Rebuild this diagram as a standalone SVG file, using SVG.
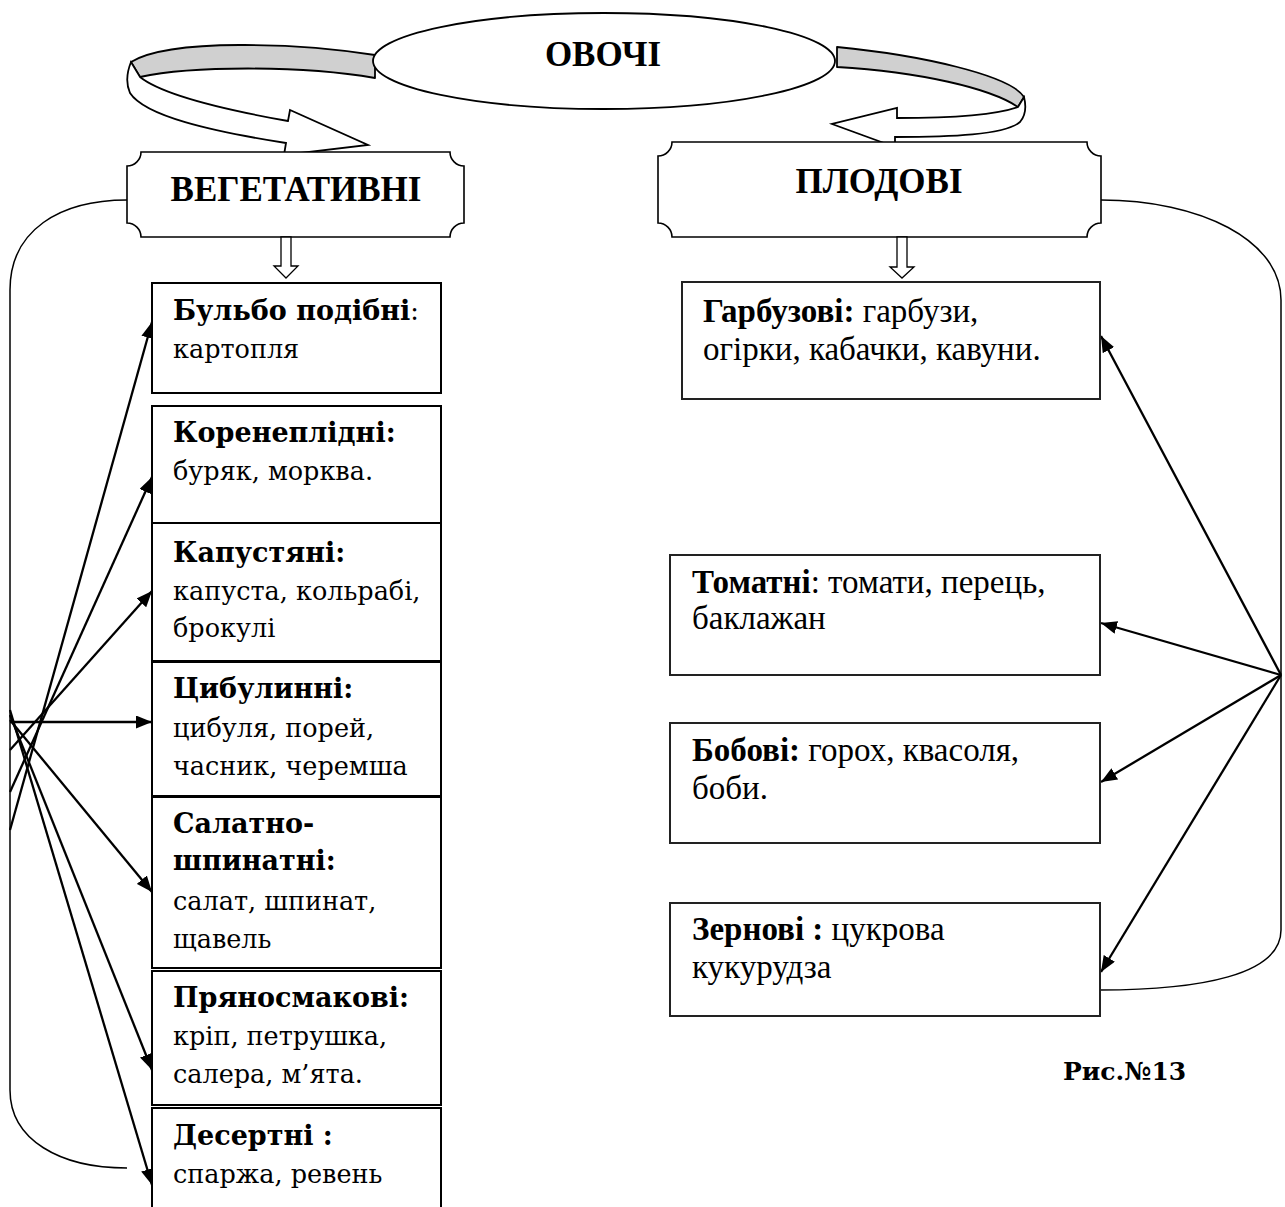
<svg xmlns="http://www.w3.org/2000/svg" width="1285" height="1207" viewBox="0 0 1285 1207">
  <style>
    .box { fill: #fff; stroke: #000; stroke-width: 2; }
    .boxr { fill: #fff; stroke: #222; stroke-width: 2; }
    .plaque { fill: #fff; stroke: #000; stroke-width: 1.6; }
    .head { font-family: "Liberation Serif", "Times New Roman", serif; font-weight: bold; font-size: 35px; fill: #000; }
    .lt { font-family: "DejaVu Serif", Georgia, serif; font-size: 25.5px; fill: #000; }
    .lt.b, .lt .b { font-size: 27px; }
    .rt { font-family: "Liberation Serif", "Times New Roman", serif; font-size: 33px; fill: #000; }
    .b { font-weight: bold; }
    .link { fill: none; stroke: #000; stroke-width: 2.3; }
    .loop { fill: none; stroke: #000; stroke-width: 1.5; }
    .hollow { fill: #fff; stroke: #000; stroke-width: 1.3; }
    .band { fill: #d0d0d0; stroke: #000; stroke-width: 1.8; stroke-linejoin: round; }
    .ribbon { fill: #fff; stroke: #000; stroke-width: 1.8; stroke-linejoin: miter; }
    .caption { font-family: "DejaVu Serif", Georgia, serif; font-weight: bold; font-size: 25px; fill: #000; }
  </style>
  <defs>
    <marker id="head" markerUnits="userSpaceOnUse" markerWidth="17" markerHeight="13" refX="16" refY="6.5" orient="auto">
      <path d="M0,0 L16,6.5 L0,13 Z" fill="#000"/>
    </marker>
  </defs>

  <rect width="1285" height="1207" fill="#fff"/>

  <!-- curved ribbon arrows from the title ellipse -->
  <g id="ribbons">
    <path class="band" d="M375,55 C300,43 170,38 131,62 L140,77 C190,66 300,65 375,78 Z"/>
    <path class="ribbon" d="M131,62 C127,72 126,84 130,93 C145,116 210,131 286,143 L284,155 L368,145 L290,110 L288,121 C215,108 160,93 140,77 Z"/>
    <path class="band" d="M837,47 C920,55 1010,75 1024,97 L1018,107 C990,88 920,72 837,67 Z"/>
    <path class="ribbon" d="M1024,97 C1026,105 1026,115 1020,122 C1005,135 950,137 895,137 L895,147 L832,124 L897,108 L897,118 C950,118 995,115 1018,107 Z"/>
  </g>

  <!-- title -->
  <g id="ovochi">
    <ellipse cx="604" cy="61" rx="231" ry="48" fill="#fff" stroke="#000" stroke-width="1.8"/>
    <text class="head" x="603" y="66" text-anchor="middle">ОВОЧІ</text>
  </g>

  <!-- group headers -->
  <g id="vegetatyvni">
    <path class="plaque" d="M141,152 L450,152 A14,14 0 0 0 464,166 L464,223 A14,14 0 0 0 450,237 L141,237 A14,14 0 0 0 127,223 L127,166 A14,14 0 0 0 141,152 Z"/>
    <text class="head" x="296" y="201" text-anchor="middle">ВЕГЕТАТИВНІ</text>
  </g>
  <g id="plodovi">
    <path class="plaque" d="M672,142 L1087,142 A14,14 0 0 0 1101,156 L1101,223 A14,14 0 0 0 1087,237 L672,237 A14,14 0 0 0 658,223 L658,156 A14,14 0 0 0 672,142 Z"/>
    <text class="head" x="879" y="193" text-anchor="middle">ПЛОДОВІ</text>
  </g>

  <!-- connectors -->
  <g id="connectors">
    <path class="hollow" d="M281,237 L291,237 L291,266 L298,266 L286,278 L274,266 L281,266 Z"/>
    <path class="hollow" d="M897,237 L907,237 L907,267 L914,267 L902,278 L890,267 L897,267 Z"/>

    <path class="loop" d="M127,200 C60,200 10,230 10,290 L10,1090 C10,1140 60,1168 127,1168"/>
    <path class="loop" d="M1101,200 C1200,200 1281,240 1281,300 L1281,930 C1281,975 1200,990 1100,990"/>

    <line class="link" x1="10" y1="830" x2="152" y2="322" marker-end="url(#head)"/>
    <line class="link" x1="10" y1="792" x2="152" y2="477" marker-end="url(#head)"/>
    <line class="link" x1="10" y1="750" x2="152" y2="591" marker-end="url(#head)"/>
    <line class="link" x1="10" y1="722" x2="152" y2="722" marker-end="url(#head)"/>
    <line class="link" x1="10" y1="720" x2="152" y2="892" marker-end="url(#head)"/>
    <line class="link" x1="10" y1="715" x2="152" y2="1070" marker-end="url(#head)"/>
    <line class="link" x1="10" y1="710" x2="152" y2="1185" marker-end="url(#head)"/>

    <line class="link" x1="1281" y1="675" x2="1101" y2="336" marker-end="url(#head)"/>
    <line class="link" x1="1281" y1="675" x2="1101" y2="623" marker-end="url(#head)"/>
    <line class="link" x1="1281" y1="675" x2="1101" y2="782" marker-end="url(#head)"/>
    <line class="link" x1="1281" y1="675" x2="1101" y2="972" marker-end="url(#head)"/>
  </g>

  <!-- vegetative groups -->
  <g id="bulbo">
    <rect class="box" x="152" y="283" width="289" height="110"/>
    <text class="lt" x="173" y="320"><tspan class="b">Бульбо подібні</tspan>:</text>
    <text class="lt" x="173" y="358">картопля</text>
  </g>
  <g id="korenepl">
    <rect class="box" x="152" y="406" width="289" height="117"/>
    <text class="lt b" x="173" y="442">Коренеплідні:</text>
    <text class="lt" x="173" y="480">буряк, морква.</text>
  </g>
  <g id="kapust">
    <rect class="box" x="152" y="523" width="289" height="138"/>
    <text class="lt b" x="173" y="562">Капустяні:</text>
    <text class="lt" x="173" y="600">капуста, кольрабі,</text>
    <text class="lt" x="173" y="637">брокулі</text>
  </g>
  <g id="tsybul">
    <rect class="box" x="152" y="662" width="289" height="134"/>
    <text class="lt b" x="173" y="698">Цибулинні:</text>
    <text class="lt" x="173" y="737">цибуля, порей,</text>
    <text class="lt" x="173" y="775">часник, черемша</text>
  </g>
  <g id="salat">
    <rect class="box" x="152" y="797" width="289" height="171"/>
    <text class="lt b" x="173" y="833">Салатно-</text>
    <text class="lt b" x="173" y="870">шпинатні:</text>
    <text class="lt" x="173" y="910">салат, шпинат,</text>
    <text class="lt" x="173" y="948">щавель</text>
  </g>
  <g id="pryano">
    <rect class="box" x="152" y="971" width="289" height="134"/>
    <text class="lt b" x="173" y="1007">Пряносмакові:</text>
    <text class="lt" x="173" y="1045">кріп, петрушка,</text>
    <text class="lt" x="173" y="1083">салера, м’ята.</text>
  </g>
  <g id="desert">
    <rect class="box" x="152" y="1108" width="289" height="112"/>
    <text class="lt b" x="173" y="1145">Десертні :</text>
    <text class="lt" x="173" y="1183">спаржа, ревень</text>
  </g>

  <!-- fruit groups -->
  <g id="garbuz">
    <rect class="boxr" x="682" y="282" width="418" height="117"/>
    <text class="rt" x="703" y="322"><tspan class="b">Гарбузові:</tspan> гарбузи,</text>
    <text class="rt" x="703" y="360">огірки, кабачки, кавуни.</text>
  </g>
  <g id="tomat">
    <rect class="boxr" x="670" y="555" width="430" height="120"/>
    <text class="rt" x="692" y="593"><tspan class="b">Томатні</tspan>: томати, перець,</text>
    <text class="rt" x="692" y="629">баклажан</text>
  </g>
  <g id="bobovi">
    <rect class="boxr" x="670" y="723" width="430" height="120"/>
    <text class="rt" x="692" y="761"><tspan class="b">Бобові:</tspan> горох, квасоля,</text>
    <text class="rt" x="692" y="799">боби.</text>
  </g>
  <g id="zernovi">
    <rect class="boxr" x="670" y="903" width="430" height="113"/>
    <text class="rt" x="692" y="940"><tspan class="b">Зернові :</tspan> цукрова</text>
    <text class="rt" x="692" y="978">кукурудза</text>
  </g>

  <text class="caption" x="1063" y="1080">Рис.№13</text>
</svg>
